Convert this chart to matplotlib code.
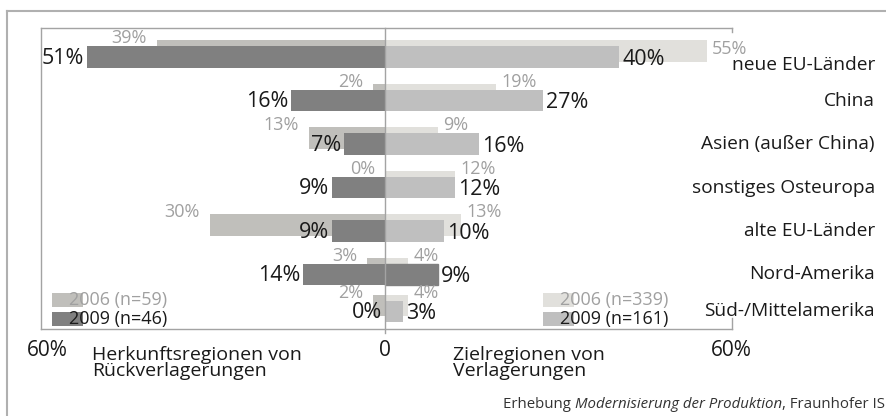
import matplotlib
matplotlib.use("Agg")
import matplotlib.pyplot as plt
import matplotlib.transforms as mtransforms
from matplotlib.patches import Rectangle
from matplotlib.lines import Line2D
import numpy as np

regions = ["neue EU-Länder", "China", "Asien (außer China)", "sonstiges Osteuropa",
           "alte EU-Länder", "Nord-Amerika", "Süd-/Mittelamerika"]
origin_2006 = [39, 2, 13, 0, 30, 3, 2]     # Herkunftsregionen von Rückverlagerungen, n=59
origin_2009 = [51, 16, 7, 9, 9, 14, 0]     # n=46
target_2006 = [55, 19, 9, 12, 13, 4, 4]    # Zielregionen von Verlagerungen, n=339
target_2009 = [40, 27, 16, 12, 10, 9, 3]   # n=161
legend_left = ["2006 (n=59)", "2009 (n=46)"]
legend_right = ["2006 (n=339)", "2009 (n=161)"]

W, H = 887, 416
PX = 0.72  # points per pixel at dpi 100
c_l06, c_l09 = "#c0bfbb", "#808080"
c_r06, c_r09 = "#e1e0dc", "#bfbfbf"
c_frame, c_lbl06, c_txt = "#a3a3a3", "#a0a0a0", "#1a1a1a"

plt.rcParams["font.family"] = ["Open Sans", "DejaVu Sans"]
fig = plt.figure(figsize=(W / 100, H / 100), dpi=100)

def fx(x):
    return x / W

def fy(y):
    return 1 - y / H

ax = fig.add_axes([fx(41), fy(329), (732 - 41) / W, (329 - 28) / H])

ys = np.arange(len(regions), dtype=float)
ys[-1] = 5.85  # last row squeezed against the frame
h, off = 0.5, 0.14

ax.barh(ys - off, [-v for v in origin_2006], h, color=c_l06, zorder=2)
ax.barh(ys - off, target_2006, h, color=c_r06, zorder=2)
ax.barh(ys, [-v for v in origin_2009], h, color=c_l09, zorder=3)
r09 = ax.barh(ys, target_2009, h, color=c_r09, zorder=3)
r09[5].set_color(c_l09)  # as in the original

ax.set_xlim(-58.8, 59.3)
ax.set_ylim(6.253, -0.667)
ax.set_xticks([]); ax.set_yticks([])
for s in ("left", "top", "bottom"):
    ax.spines[s].set_color(c_frame); ax.spines[s].set_linewidth(1)
ax.spines["right"].set_visible(False)

# value labels
for i, y in enumerate(ys):
    ax.annotate(f"{origin_2009[i]}%", xy=(-origin_2009[i], y), xytext=(-3 * PX, -1 * PX),
                textcoords="offset points", ha="right", va="center", fontsize=15.5, color=c_txt, zorder=5)
    ax.annotate(f"{target_2009[i]}%", xy=(target_2009[i], y), xytext=(3 * PX, -2 * PX),
                textcoords="offset points", ha="left", va="center", fontsize=15.5, color=c_txt, zorder=5)
    top06 = y - off - h / 2
    ax.annotate(f"{origin_2006[i]}%", xy=(-origin_2006[i], top06), xytext=(-10 * PX, 2 * PX),
                textcoords="offset points", ha="right", va="center", fontsize=13, color=c_lbl06, zorder=4)
    dy = -9 if i == 0 else 2
    ax.annotate(f"{target_2006[i]}%", xy=(target_2006[i], top06), xytext=(5 * PX, dy * PX),
                textcoords="offset points", ha="left", va="center", fontsize=13, color=c_lbl06, zorder=4)

# region names on the right
blend = mtransforms.blended_transform_factory(fig.transFigure, ax.transData)
for i, (name, y) in enumerate(zip(regions, ys)):
    dy = -8 if i == 0 else 0
    ax.annotate(name, xy=(fx(875), y), xycoords=blend, xytext=(0, dy * PX), textcoords="offset points",
                ha="right", va="center", fontsize=13.8, color=c_txt, annotation_clip=False)

# frame details
fig.add_artist(Line2D([fx(385), fx(385)], [fy(28), fy(333)], color=c_frame, lw=1, zorder=6))
fig.add_artist(Line2D([fx(732), fx(732)], [fy(28), fy(32)], color=c_frame, lw=1))
fig.add_artist(Line2D([fx(732), fx(732)], [fy(318), fy(329)], color=c_frame, lw=1))
fig.add_artist(Line2D([fx(7), fx(7)], [fy(11), 0], color="#b0b0b0", lw=1.5))
fig.add_artist(Line2D([fx(7), 1], [fy(11), fy(11)], color="#b0b0b0", lw=1.5))

# legends
for (x0, tx, labels, cols) in ((52, 69, legend_left, (c_l06, c_l09)), (543, 560, legend_right, (c_r06, c_r09))):
    for j, (lab, col, yt) in enumerate(zip(labels, cols, (293, 312))):
        fig.add_artist(Rectangle((fx(x0), fy(yt + 14)), 31 / W, 14 / H, transform=fig.transFigure,
                                 color=col, lw=0, zorder=6))
        fig.text(fx(tx), fy(yt + 7), lab, ha="left", va="center", fontsize=13,
                 color=c_lbl06 if j == 0 else c_txt, zorder=7)

# axis text below
fig.text(fx(47), fy(350), "60%", ha="center", va="center", fontsize=15, color=c_txt)
fig.text(fx(385), fy(350), "0", ha="center", va="center", fontsize=15, color=c_txt)
fig.text(fx(731), fy(350), "60%", ha="center", va="center", fontsize=15, color=c_txt)
fig.text(fx(92), fy(346), "Herkunftsregionen von\nRückverlagerungen", ha="left", va="top",
         fontsize=14, color=c_txt, linespacing=0.85)
fig.text(fx(453), fy(346), "Zielregionen von\nVerlagerungen", ha="left", va="top",
         fontsize=14, color=c_txt, linespacing=0.85)

# source line, mixed italic
renderer = fig.canvas.get_renderer()
x_right = fx(885)
for part, style in ((", Fraunhofer IS", "normal"), ("Modernisierung der Produktion", "italic"), ("Erhebung ", "normal")):
    t = fig.text(x_right, fy(405), part, ha="right", va="center", fontsize=10.8, style=style, color="#333333")
    bb = t.get_window_extent(renderer)
    x_right = bb.x0 / W

fig.savefig("out.png", dpi=100)
